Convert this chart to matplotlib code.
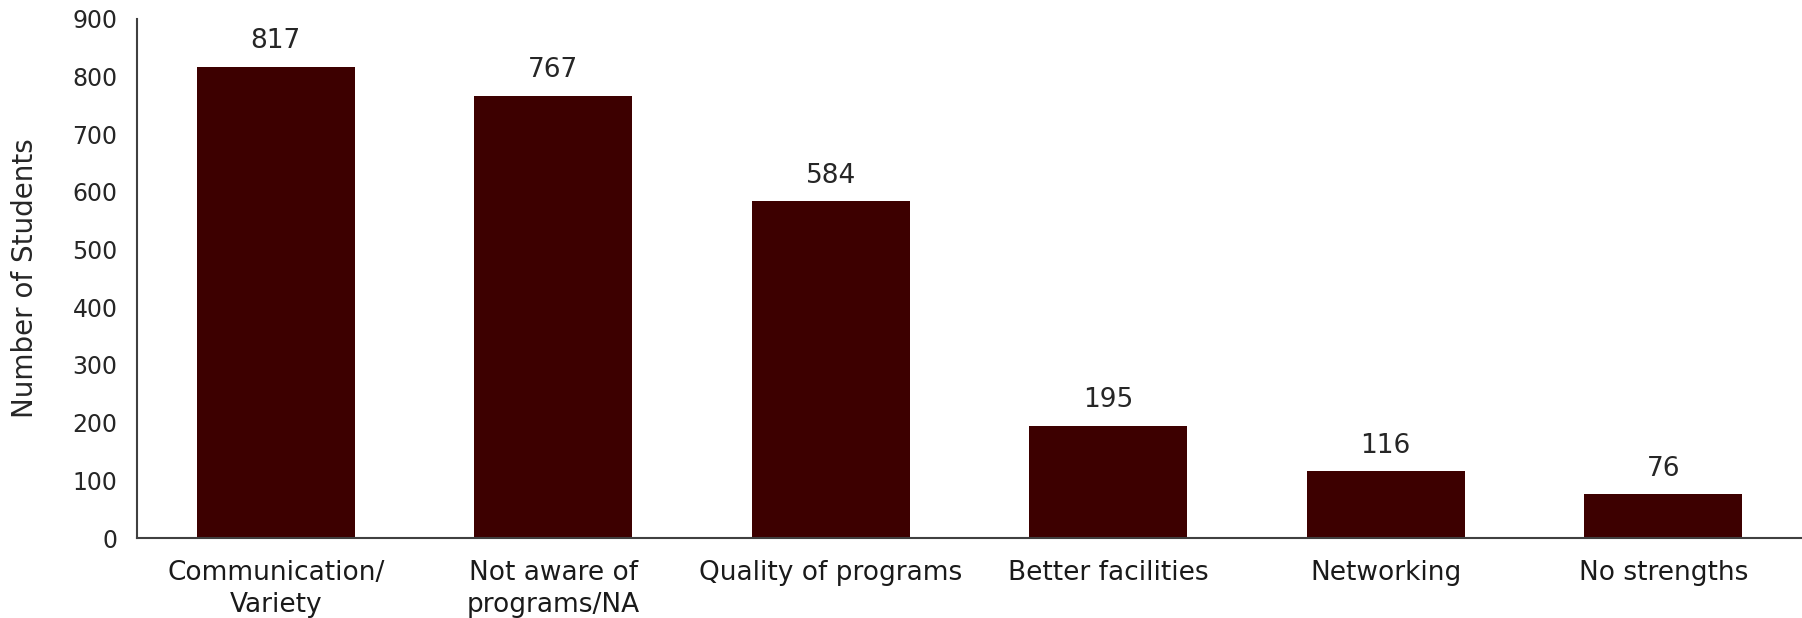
import matplotlib
matplotlib.use("Agg")
import matplotlib.pyplot as plt
from matplotlib import font_manager

categories = ["Communication/\nVariety", "Not aware of\nprograms/NA", "Quality of programs",
              "Better facilities", "Networking", "No strengths"]
counts = [817, 767, 584, 195, 116, 76]
yticks = [0, 100, 200, 300, 400, 500, 600, 700, 800, 900]

bar_color = "#3d0000"

# pick a narrow family if one is around, otherwise plain DejaVu Sans
names = {f.name for f in font_manager.fontManager.ttflist}
narrow = "Liberation Sans Narrow" if "Liberation Sans Narrow" in names else "DejaVu Sans"

fig = plt.figure(figsize=(18.02, 6.18), dpi=100)
ax = fig.add_axes([0.076, 0.1294, 0.924, 0.840])

x = list(range(len(categories)))
bars = ax.bar(x, counts, width=0.57, color=bar_color)

for rect, val in zip(bars, counts):
    ax.annotate(str(val), (rect.get_x() + rect.get_width() / 2, rect.get_height()),
                xytext=(0, 9), textcoords="offset points", ha="center", va="bottom",
                fontsize=19, color="#262626")

ax.set_xlim(-0.5, len(categories) - 0.5)
ax.set_ylim(0, 900)
ax.set_yticks(yticks)
ax.set_xticks(x)
ax.set_xticklabels(categories, fontsize=19, family=narrow, color="#1a1a1a", linespacing=1.3)
ax.tick_params(axis="both", length=0)
ax.tick_params(axis="x", pad=16)
ax.tick_params(axis="y", pad=14, labelsize=17, labelcolor="#262626")
ax.set_ylabel("Number of Students", fontsize=20, family=narrow, color="#262626", labelpad=24)

for side in ["top", "right"]:
    ax.spines[side].set_visible(False)
for side in ["left", "bottom"]:
    ax.spines[side].set_color("#404040")
    ax.spines[side].set_linewidth(1.5)

fig.savefig("out.png", dpi=100)
